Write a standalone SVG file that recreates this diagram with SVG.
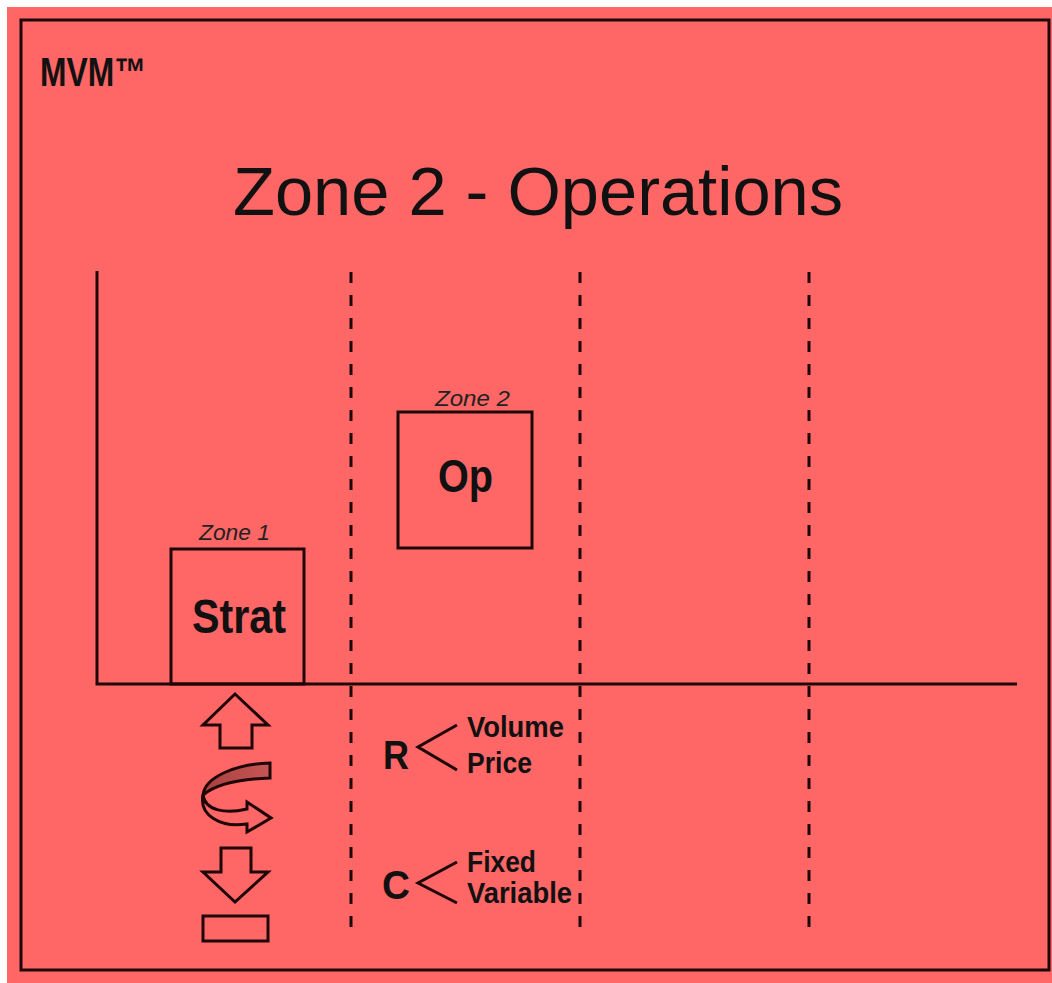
<svg xmlns="http://www.w3.org/2000/svg" width="1052" height="983" viewBox="0 0 1052 983">
<style>
.ln{stroke:#1e0606;stroke-width:3;fill:none}
.dash{stroke:#1e0606;stroke-width:3;fill:none;stroke-dasharray:11 12}
.shp{stroke:#1e0606;stroke-width:3;fill:#ff6666;stroke-linejoin:miter}
.b{font-family:"Liberation Sans",Arial,sans-serif;font-weight:bold;fill:#111}
.it{font-family:"Liberation Sans",Arial,sans-serif;font-style:italic;fill:#222;font-size:22px}
.t{font-family:"Liberation Sans",Arial,sans-serif;fill:#111}
</style>
<defs>
<linearGradient id="band" x1="0" y1="0" x2="1" y2="0">
<stop offset="0" stop-color="#a84040"/>
<stop offset="1" stop-color="#c85555"/>
</linearGradient>
</defs>
<rect x="0" y="0" width="1052" height="983" fill="#ffffff"/>
<rect x="7" y="7" width="1045" height="976" fill="#ff6666"/>
<rect x="21" y="20" width="1028" height="950" class="ln"/>
<g id="header">
<text class="b" x="40" y="86" font-size="40" textLength="106" lengthAdjust="spacingAndGlyphs">MVM™</text>
<text class="t" x="233" y="215" font-size="68" textLength="610" lengthAdjust="spacingAndGlyphs">Zone 2 - Operations</text>
</g>
<g id="connectors">
<polyline class="ln" points="97,271 97,684 1017,684"/>
<line class="dash" x1="351" y1="272" x2="351" y2="938"/>
<line class="dash" x1="580" y1="272" x2="580" y2="938"/>
<line class="dash" x1="809" y1="272" x2="809" y2="938"/>
</g>
<g id="strat">
<text class="it" x="199" y="540" textLength="71" lengthAdjust="spacingAndGlyphs">Zone 1</text>
<rect class="ln" x="171" y="549" width="133" height="135"/>
<text class="b" x="192" y="633" font-size="48" textLength="94" lengthAdjust="spacingAndGlyphs">Strat</text>
</g>
<g id="op">
<text class="it" x="435" y="406" textLength="75" lengthAdjust="spacingAndGlyphs">Zone 2</text>
<rect class="ln" x="398" y="412" width="134" height="136"/>
<text class="b" x="438" y="492" font-size="46" textLength="55" lengthAdjust="spacingAndGlyphs">Op</text>
</g>
<g id="icons">
<polygon class="shp" points="235,694 268,725 252,725 252,748 220,748 220,725 203,725"/>
<path class="shp" d="M203,795 C205,811 226,814 247,809 L247,802 L271,818 L247,832 L247,824 C220,828 199,815 203,795 Z"/>
<path d="M270,763 C238,764 205,776 203,795 C216,784 240,779 270,778 Z" fill="url(#band)" stroke="#1e0606" stroke-width="3" stroke-linejoin="miter"/>
<polygon class="shp" points="221,848 251,848 251,872 268,872 235,902 203,872 221,872"/>
<rect class="shp" x="203" y="916" width="65" height="25"/>
</g>
<g id="revenue">
<text class="b" x="383" y="769" font-size="40" textLength="26" lengthAdjust="spacingAndGlyphs">R</text>
<polyline class="ln" points="457,725 418,747 457,770"/>
<text class="b" x="467" y="737" font-size="29" textLength="97" lengthAdjust="spacingAndGlyphs">Volume</text>
<text class="b" x="467" y="773" font-size="29" textLength="65" lengthAdjust="spacingAndGlyphs">Price</text>
</g>
<g id="cost">
<text class="b" x="382" y="899" font-size="40" textLength="28" lengthAdjust="spacingAndGlyphs">C</text>
<polyline class="ln" points="457,862 418,883 457,903"/>
<text class="b" x="467" y="872" font-size="29" textLength="69" lengthAdjust="spacingAndGlyphs">Fixed</text>
<text class="b" x="467" y="903" font-size="29" textLength="105" lengthAdjust="spacingAndGlyphs">Variable</text>
</g>
</svg>
